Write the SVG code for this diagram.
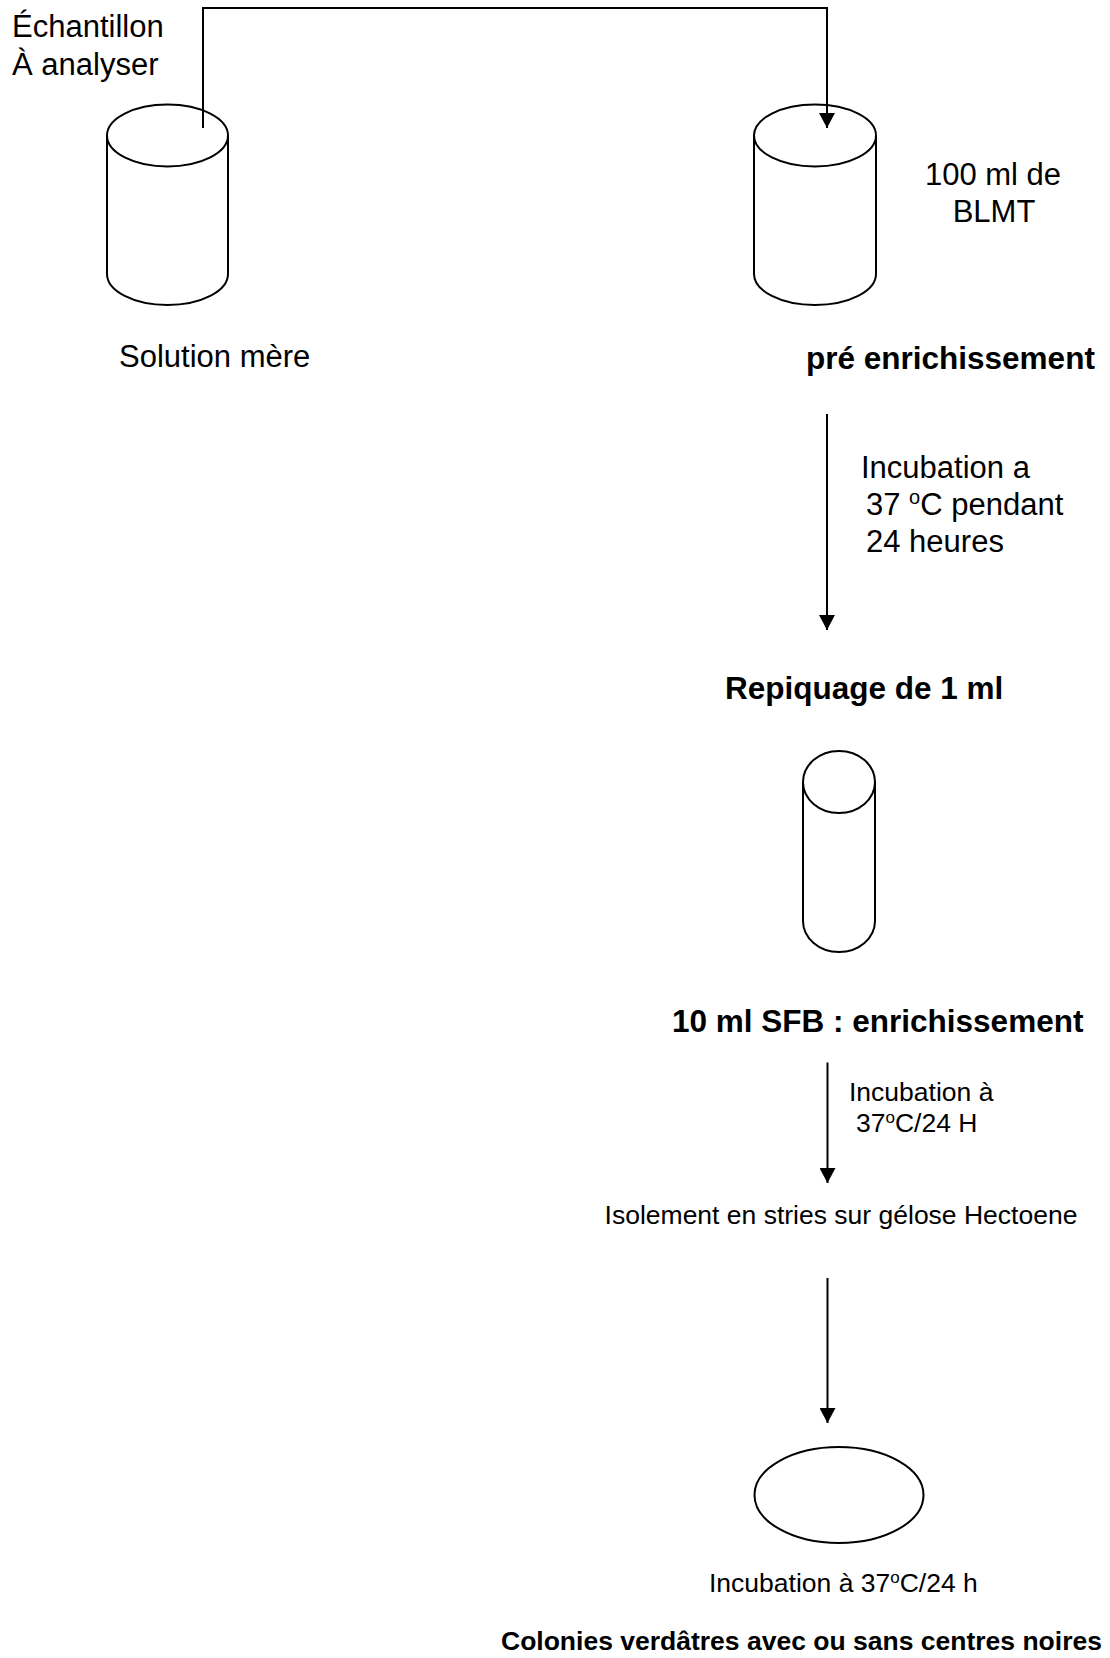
<svg xmlns="http://www.w3.org/2000/svg" width="1110" height="1658" viewBox="0 0 1110 1658">
<style>
text{font-family:"Liberation Sans",Arial,sans-serif;fill:#000}
.big{font-size:31px}
.bigb{font-size:31.5px;font-weight:bold}
.sm{font-size:26.5px}
.smb{font-size:26.5px;font-weight:bold}
.shape{fill:#fff;stroke:#000;stroke-width:2}
.conn{fill:none;stroke:#000;stroke-width:2}
</style>
<defs>
<marker id="arr" viewBox="0 0 15 16" refX="15" refY="8" markerWidth="15" markerHeight="16" markerUnits="userSpaceOnUse" orient="auto">
<path d="M0,0 L15,8 L0,16 Z" fill="#000"/>
</marker>
</defs>
<rect width="1110" height="1658" fill="#fff"/>

<g id="sample-label">
<text class="big" x="12" y="37">Échantillon</text>
<text class="big" x="12" y="75">À analyser</text>
</g>

<g id="solution-mere">
<path class="shape" d="M107,135.5 V274 A60.5,31 0 0 0 228,274 V135.5"/>
<ellipse class="shape" cx="167.5" cy="135.5" rx="60.5" ry="31"/>
<text class="big" x="119" y="367">Solution mère</text>
</g>

<g id="pre-enrichissement">
<path class="shape" d="M754,135.5 V274 A61,31 0 0 0 876,274 V135.5"/>
<ellipse class="shape" cx="815" cy="135.5" rx="61" ry="31"/>
<text class="big" x="993" y="185" text-anchor="middle">100 ml de</text>
<text class="big" x="994" y="222" text-anchor="middle">BLMT</text>
<text class="bigb" x="806" y="369">pré enrichissement</text>
</g>

<g id="incubation-1">
<text class="big" x="861" y="478">Incubation a</text>
<text class="big" x="866" y="515">37 <tspan font-size="20" dy="-11">o</tspan><tspan dy="11">C pendant</tspan></text>
<text class="big" x="866" y="552">24 heures</text>
</g>

<g id="repiquage">
<text class="bigb" x="725" y="699">Repiquage de 1 ml</text>
</g>

<g id="tube-sfb">
<path class="shape" d="M803,782 V921 A36,31 0 0 0 875,921 V782"/>
<ellipse class="shape" cx="839" cy="782" rx="36" ry="31"/>
<text class="bigb" x="672" y="1032">10 ml SFB : enrichissement</text>
</g>

<g id="incubation-2">
<text class="sm" x="849" y="1101">Incubation à</text>
<text class="sm" x="856" y="1132">37<tspan font-size="17" dy="-9">o</tspan><tspan dy="9">C/24 H</tspan></text>
</g>

<g id="isolement">
<text class="sm" x="841" y="1224" text-anchor="middle">Isolement en stries sur gélose Hectoene</text>
</g>

<g id="boite">
<ellipse class="shape" cx="839" cy="1495" rx="84.5" ry="48"/>
<text class="sm" x="709" y="1592">Incubation à 37<tspan font-size="17" dy="-9">o</tspan><tspan dy="9">C/24 h</tspan></text>
</g>

<g id="resultat">
<text class="smb" x="501" y="1650">Colonies verdâtres avec ou sans centres noires</text>
</g>

<g id="connectors">
<polyline class="conn" points="203,128 203,8 827,8 827,128" marker-end="url(#arr)"/>
<line class="conn" x1="827" y1="414" x2="827" y2="630" marker-end="url(#arr)"/>
<line class="conn" x1="827.5" y1="1062.5" x2="827.5" y2="1183" marker-end="url(#arr)"/>
<line class="conn" x1="827.5" y1="1278" x2="827.5" y2="1423" marker-end="url(#arr)"/>
</g>
</svg>
